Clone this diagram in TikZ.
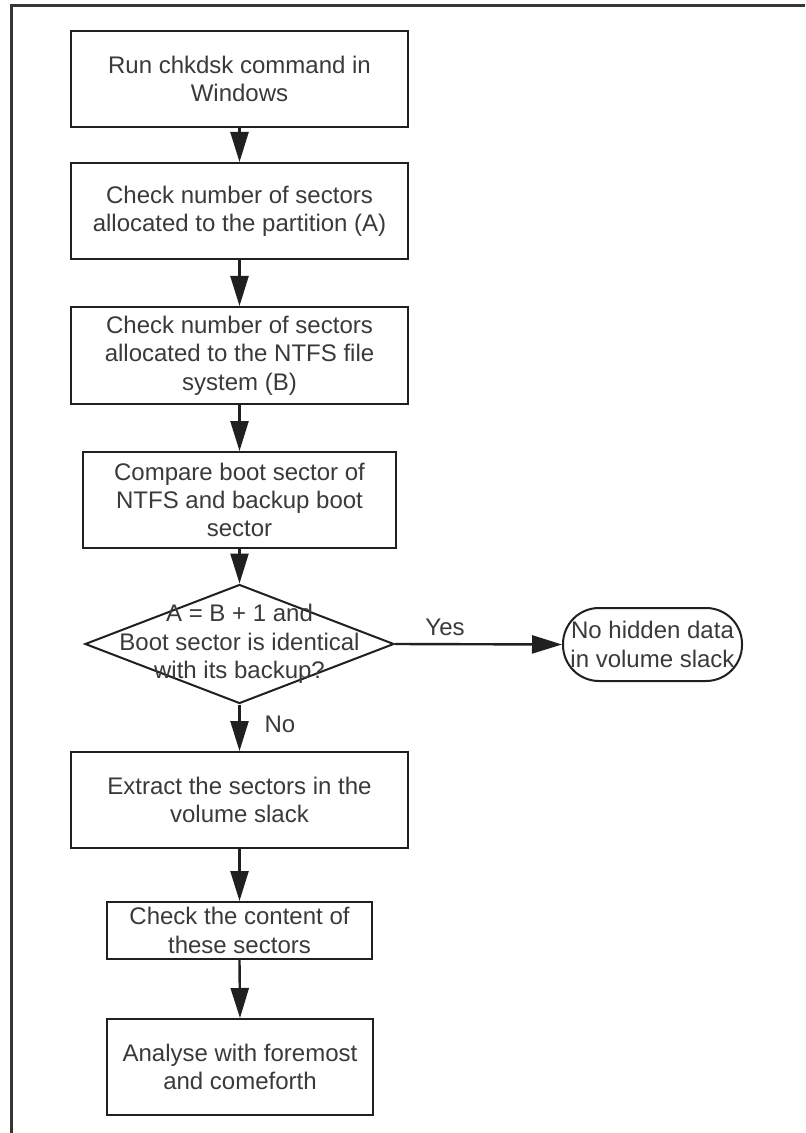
\documentclass[tikz,border=0pt]{standalone}
\usepackage{fontspec}
\setmainfont{Liberation Sans}
\usetikzlibrary{arrows.meta,shapes.geometric}

\definecolor{inkline}{HTML}{202020}
\definecolor{inktext}{HTML}{3A3A3A}

\tikzset{
  txt/.style={font=\fontsize{12}{14.2}\selectfont, text=inktext, align=center},
  procbox/.style={draw=inkline, line width=1pt, fill=white, rectangle, inner sep=0pt, txt},
  decision/.style={draw=inkline, line width=1pt, diamond, inner sep=0pt,
    minimum width=154.5pt, minimum height=59.5pt},
  terminal/.style={draw=inkline, line width=1pt, rectangle, rounded corners=18pt,
    inner sep=0pt, minimum width=89.5pt, minimum height=36.5pt, txt},
  flow/.style={draw=inkline, line width=1.2pt, -{Triangle[length=15pt,width=9pt]}},
  lbl/.style={txt, inner sep=0pt}
}

\begin{document}
\begin{tikzpicture}[x=0.5pt, y=-0.5pt]
  \useasboundingbox (0,0) rectangle (805,1133);
  \fill[white] (0,0) rectangle (805,1133);

  % outer frame (left and top edges)
  \draw[draw=inkline!90, line width=1.5pt] (11,1133) -- (11,6) -- (805,6);

  % process steps
  \node[procbox, minimum width=168.5pt, minimum height=48pt] (b1) at (239.5,79)
    {Run chkdsk command in\\Windows};
  \node[procbox, minimum width=168.5pt, minimum height=48pt] (b2) at (239.5,211)
    {Check number of sectors\\allocated to the partition (A)};
  \node[procbox, minimum width=168.5pt, minimum height=48.5pt] (b3) at (239.5,355.5)
    {Check number of sectors\\allocated to the NTFS file\\system (B)};
  \node[procbox, minimum width=156.5pt, minimum height=48pt] (b4) at (239.5,500)
    {Compare boot sector of\\NTFS and backup boot\\sector};

  % decision
  \node[decision] (d) at (239.5,644) {};
  \node[lbl] (dtext) at (d.center) {A = B + 1 and\\Boot sector is identical\\with its backup?};

  % terminal for the "Yes" branch
  \node[terminal] (t) at (652.5,644.5) {No hidden data\\in volume slack};

  % "No" branch
  \node[procbox, minimum width=168.5pt, minimum height=48pt] (b5) at (239.5,800)
    {Extract the sectors in the\\volume slack};
  \node[procbox, minimum width=132.5pt, minimum height=28.5pt] (b6) at (239.5,930.5)
    {Check the content of\\these sectors};
  \node[procbox, minimum width=133pt, minimum height=48pt] (b7) at (240,1067)
    {Analyse with foremost\\and comeforth};

  % connectors
  \draw[flow] (b1.south) -- (b2.north);
  \draw[flow] (b2.south) -- (b3.north);
  \draw[flow] (b3.south) -- (b4.north);
  \draw[flow] (b4.south) -- (d.north);
  \draw[flow] (d.east) -- (t.west);
  \draw[flow] (d.south) -- (b5.north);
  \draw[flow] (b5.south) -- (b6.north);
  \draw[flow] (b6.south) -- (b7.north);

  % branch labels
  \node[lbl] (yes) at (445,627) {Yes};
  \node[lbl] (no) at (280,724) {No};
\end{tikzpicture}
\end{document}
